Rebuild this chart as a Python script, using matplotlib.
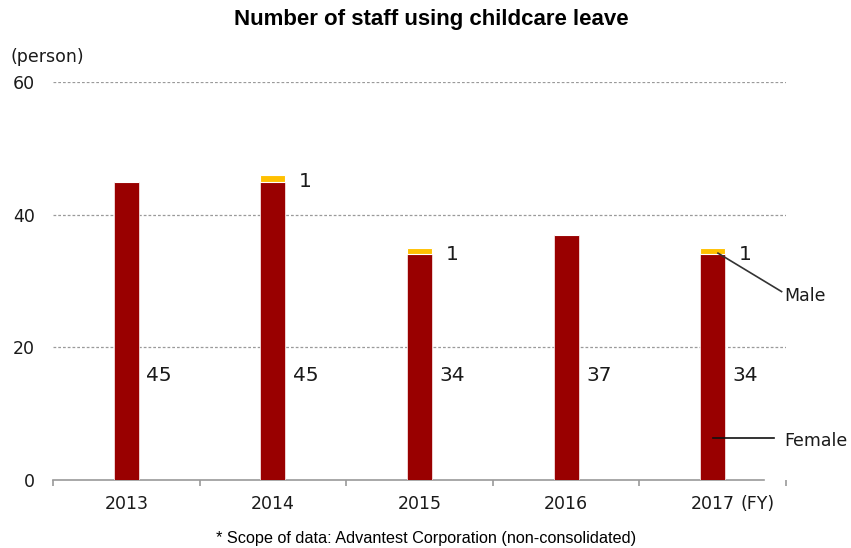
import matplotlib
matplotlib.use("Agg")
import matplotlib.pyplot as plt
import numpy as np

years = ["2013", "2014", "2015", "2016", "2017"]
female = [45, 45, 34, 37, 34]
male = [0, 1, 1, 0, 1]
y_ticks = [0, 20, 40, 60]

RED = "#990000"
GOLD = "#FFC000"
TXT = "#1a1a1a"

fig = plt.figure(figsize=(8.51, 5.48), dpi=100)
ax = fig.add_axes([53 / 851, 1 - 480 / 548, (786 - 53) / 851, (480 - 82) / 548])

x = np.arange(len(years))
width = 0.17
ax.bar(x, female, width, color=RED, edgecolor="#f4dede", linewidth=0.6, zorder=3)
ax.bar(x, male, width, bottom=female, color=GOLD, edgecolor="white", linewidth=0.8, zorder=3)

ax.set_xlim(-0.5, len(years) - 0.5)
ax.set_ylim(0, 60)

# grid lines and y axis
ax.set_yticks(y_ticks)
ax.set_yticklabels([str(v) for v in y_ticks], fontsize=12.5, color=TXT, family="DejaVu Sans")
ax.tick_params(axis="y", length=0, pad=13)
for v in y_ticks[1:]:
    ax.axhline(v, color="#9a9a9a", linewidth=0.9, linestyle=(0, (2.2, 1.6)), zorder=1)

# x axis: labels at category centres, separator ticks between categories
ax.set_xticks(x)
ax.set_xticklabels(years, fontsize=12.5, color=TXT, family="DejaVu Sans")
ax.tick_params(axis="x", which="major", length=0, pad=11)
ax.set_xticks(np.arange(-0.5, len(years)), minor=True)
ax.tick_params(axis="x", which="minor", length=4, width=1.2, color="#9a9a9a", direction="out")

for s in ["top", "right", "left"]:
    ax.spines[s].set_visible(False)
ax.spines["bottom"].set_color("#9a9a9a")
ax.spines["bottom"].set_linewidth(1.2)
ax.spines["bottom"].set_bounds(-0.5, 4.35)

ax.annotate("(FY)", xy=(4.19, 0), xycoords=("data", "axes fraction"),
            xytext=(0, -11), textcoords="offset points", ha="left", va="top",
            fontsize=12.5, color=TXT, family="DejaVu Sans")

# value labels
for xi, f, m in zip(x, female, male):
    ax.text(xi + 0.137, 15.8, str(f), ha="left", va="center", fontsize=14.5,
            color=TXT, family="DejaVu Sans", zorder=4)
    if m:
        ax.text(xi + 0.18, f + m - 1.0, str(m), ha="left", va="center", fontsize=14.5,
                color=TXT, family="DejaVu Sans", zorder=4)

# series callouts
ax.plot([4.036, 4.47], [34.2, 28.4], color="#333333", linewidth=1.2, zorder=5, clip_on=False)
ax.text(4.49, 27.7, "Male", ha="left", va="center", fontsize=12.5, color=TXT,
        family="DejaVu Sans", clip_on=False)
ax.plot([4.0, 4.42], [6.3, 6.3], color="#111111", linewidth=1.2, zorder=5, clip_on=False)
ax.text(4.49, 5.9, "Female", ha="left", va="center", fontsize=12.5, color=TXT,
        family="DejaVu Sans", clip_on=False)

# axis unit, title and footnote
fig.text(10 / 851, 1 - 57 / 548, "(person)", ha="left", va="center", fontsize=12.5,
         color=TXT, family="DejaVu Sans")
fig.text(431 / 851, 1 - 20 / 548, "Number of staff using childcare leave", ha="center",
         va="center", fontsize=16, fontweight="bold", color="black", family="Liberation Sans")
fig.text(426 / 851, 1 - 538 / 548, "* Scope of data: Advantest Corporation (non-consolidated)",
         ha="center", va="center", fontsize=11.7, color="black", family="Liberation Sans")

fig.savefig("out.png", dpi=100)
